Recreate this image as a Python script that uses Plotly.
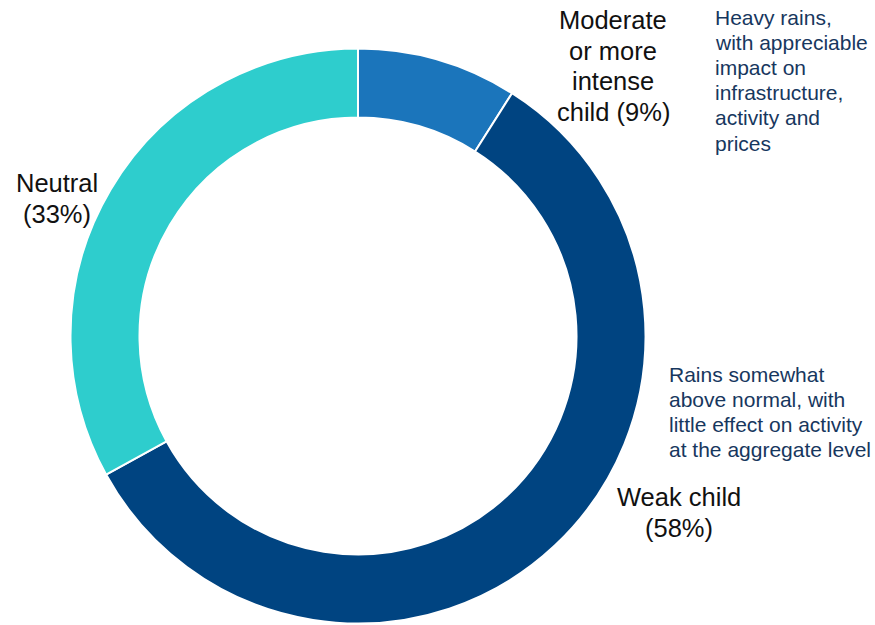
import plotly.graph_objects as go

# ENSO scenario probabilities
scenarios = ["Moderate or more intense child", "Weak child", "Neutral"]
probabilities = [9, 58, 33]
slice_colors = ["#1B75BB", "#004481", "#2ECDCD"]

# Slice labels and impact notes, one entry per text line
moderate_label = ["Moderate", "or more", "intense", "child (9%)"]
weak_label = ["Weak child", "(58%)"]
neutral_label = ["Neutral", "(33%)"]
heavy_note = ["Heavy rains,", "with appreciable", "impact on", "infrastructure,", "activity and", "prices"]
mild_note = ["Rains somewhat", "above normal, with", "little effect on activity", "at the aggregate level"]

W, H = 875, 625

fig = go.Figure(
    go.Pie(
        labels=scenarios,
        values=probabilities,
        hole=0.76,
        sort=False,
        direction="clockwise",
        rotation=0,
        marker=dict(colors=slice_colors, line=dict(color="white", width=2)),
        textinfo="none",
        hoverinfo="label+percent",
        showlegend=False,
        domain=dict(x=[70.5 / W, 645.5 / W], y=[(H - 623.5) / H, (H - 48.5) / H]),
    )
)

label_font = dict(family="Liberation Sans, Arial, sans-serif", size=25.5, color="#111111")
note_font = dict(family="Liberation Sans, Arial, sans-serif", size=21, color="#17375E")

annotations = []


def add_block(lines, x, y0, step, anchor, font):
    for i, line in enumerate(lines):
        annotations.append(dict(
            text=line, x=x / W, y=1 - (y0 + i * step) / H,
            xref="paper", yref="paper", xanchor=anchor, yanchor="middle",
            showarrow=False, font=font,
        ))


add_block(moderate_label, 613, 20, 30.7, "center", label_font)
add_block(weak_label, 679, 497, 30.5, "center", label_font)
add_block(neutral_label, 57, 183, 31, "center", label_font)
add_block(heavy_note, 713, 17, 25.2, "left", note_font)
add_block(mild_note, 667, 374, 25, "left", note_font)

fig.update_layout(
    width=W,
    height=H,
    margin=dict(l=0, r=0, t=0, b=0),
    paper_bgcolor="white",
    plot_bgcolor="white",
    annotations=annotations,
)

fig.write_html("out.html")
